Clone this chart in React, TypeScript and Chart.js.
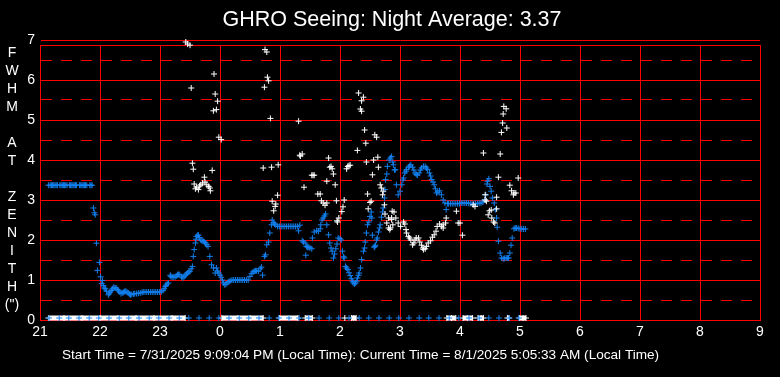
import React, { useEffect, useRef } from 'react';
import { Chart, registerables } from 'chart.js';

Chart.register(...registerables);

const TITLE = 'GHRO Seeing: Night Average: 3.37';
const FOOTER = 'Start Time = 7/31/2025 9:09:04 PM (Local Time): Current Time = 8/1/2025 5:05:33 AM (Local Time)';
const Y_LABEL_LINES = ['F', 'W', 'H', 'M', '', 'A', 'T', '', 'Z', 'E', 'N', 'I', 'T', 'H', '(")'];
const HOUR_LABELS = ['21', '22', '23', '0', '1', '2', '3', '4', '5', '6', '7', '8', '9'];
const Y_TICKS = [0, 0.5, 1, 1.5, 2, 2.5, 3, 3.5, 4, 4.5, 5, 5.5, 6, 6.5, 7];
const Y_MAX = 6.875;
const ZERO_ROW = 0.05;

const BLUE = 'rgb(18,128,240)';
const WHITE = '#ffffff';
const RED = '#ff0000';

// x = hours since 21:00, y = FWHM (arcsec)
const blueSeeing: [number, number][] = [
  [0.14, 3.37], [0.17, 3.37], [0.19, 3.37], [0.21, 3.37], [0.23, 3.37], [0.25, 3.37], [0.27, 3.37], [0.29, 3.37],
  [0.33, 3.37], [0.35, 3.37], [0.37, 3.37], [0.39, 3.37], [0.41, 3.37], [0.43, 3.37], [0.45, 3.37],
  [0.49, 3.37], [0.51, 3.37], [0.53, 3.37], [0.55, 3.37], [0.57, 3.37], [0.59, 3.37], [0.61, 3.37],
  [0.66, 3.37], [0.68, 3.37], [0.7, 3.37], [0.72, 3.37], [0.74, 3.37], [0.76, 3.37], [0.78, 3.37],
  [0.83, 3.37], [0.85, 3.37], [0.87, 3.37],
  [0.89, 2.8], [0.906, 2.68], [0.92, 2.63], [0.94, 1.92], [0.956, 1.24], [0.99, 1.44],
  [1.01, 1.08], [1.03, 0.91], [1.04, 0.99], [1.055, 0.86], [1.07, 0.8], [1.09, 0.78], [1.11, 0.72],
  [1.14, 0.63], [1.155, 0.67], [1.17, 0.7], [1.19, 0.74], [1.21, 0.78], [1.23, 0.82], [1.25, 0.8],
  [1.27, 0.8], [1.29, 0.76], [1.31, 0.73], [1.33, 0.7], [1.35, 0.66], [1.37, 0.68], [1.39, 0.69],
  [1.41, 0.71], [1.43, 0.72], [1.45, 0.7], [1.47, 0.675], [1.49, 0.65], [1.51, 0.63], [1.53, 0.64],
  [1.56, 0.65], [1.58, 0.66], [1.61, 0.66], [1.64, 0.67], [1.67, 0.675], [1.7, 0.69], [1.72, 0.7],
  [1.75, 0.7], [1.78, 0.7], [1.81, 0.7], [1.84, 0.7], [1.87, 0.7], [1.9, 0.7], [1.93, 0.7],
  [1.96, 0.7], [1.99, 0.7], [2.02, 0.7], [2.05, 0.74], [2.07, 0.78], [2.09, 0.84], [2.1, 0.87],
  [2.12, 0.9], [2.14, 0.925], [2.17, 1.12], [2.18, 1.09], [2.2, 1.07], [2.22, 1.08], [2.25, 1.07],
  [2.27, 1.1], [2.29, 1.13], [2.31, 1.14], [2.33, 1.13], [2.36, 1.08], [2.38, 1.05], [2.4, 1.08],
  [2.42, 1.12], [2.44, 1.15], [2.46, 1.175], [2.48, 1.2], [2.5, 1.22], [2.52, 1.28], [2.54, 1.34],
  [2.555, 1.59], [2.57, 1.76], [2.59, 1.925], [2.6, 2.02], [2.61, 2.09], [2.63, 2.12], [2.64, 2.12],
  [2.66, 2.06], [2.68, 2.0], [2.7, 1.98], [2.72, 1.97], [2.74, 1.95], [2.76, 1.925], [2.78, 1.88],
  [2.8, 1.84], [2.83, 1.59], [2.86, 1.38], [2.89, 1.3], [2.92, 1.175], [2.94, 1.3], [2.96, 1.22],
  [2.98, 1.175], [3.0, 1.12], [3.02, 1.07], [3.04, 1.0], [3.06, 0.925], [3.08, 0.88], [3.1, 0.9],
  [3.13, 0.94], [3.15, 0.96], [3.17, 0.98], [3.2, 1.0], [3.23, 1.0], [3.26, 1.0], [3.29, 1.0],
  [3.32, 1.0], [3.35, 1.0], [3.38, 1.0], [3.41, 1.0], [3.44, 1.0], [3.47, 1.0], [3.5, 1.09],
  [3.53, 1.16], [3.55, 1.2], [3.57, 1.22], [3.59, 1.23], [3.61, 1.23], [3.64, 1.22], [3.67, 1.28],
  [3.69, 1.32], [3.71, 1.12], [3.74, 1.59], [3.76, 1.63], [3.78, 1.88], [3.81, 1.95], [3.83, 2.175],
  [3.86, 2.38], [3.87, 2.5], [3.89, 2.43], [3.91, 2.4], [3.93, 2.38], [3.96, 2.34], [3.99, 2.34],
  [4.02, 2.34], [4.05, 2.34], [4.08, 2.34], [4.11, 2.34], [4.14, 2.34], [4.17, 2.34], [4.2, 2.34],
  [4.23, 2.34], [4.26, 2.34], [4.29, 2.34], [4.31, 2.23], [4.33, 2.37], [4.37, 1.98], [4.39, 1.95],
  [4.42, 1.925], [4.43, 1.62], [4.44, 1.84], [4.46, 1.82], [4.48, 1.82], [4.5, 1.8], [4.53, 1.78],
  [4.54, 2.05], [4.57, 2.2], [4.61, 2.23], [4.64, 2.22], [4.67, 2.28], [4.68, 2.38], [4.7, 2.5],
  [4.72, 2.55], [4.74, 2.6], [4.76, 2.65], [4.78, 2.38], [4.81, 2.13], [4.83, 1.925], [4.85, 1.8],
  [4.87, 1.72], [4.89, 1.55], [4.91, 1.65], [4.93, 1.78], [4.95, 1.9], [4.97, 2.05], [5.0, 2.03],
  [5.02, 2.0], [5.04, 1.72], [5.06, 1.58], [5.07, 1.55], [5.09, 1.34], [5.11, 1.3], [5.13, 1.26],
  [5.15, 1.18], [5.17, 1.11], [5.19, 1.03], [5.21, 0.97], [5.22, 0.93], [5.24, 0.9], [5.26, 0.925],
  [5.28, 0.97], [5.29, 1.05], [5.31, 1.12], [5.32, 1.175], [5.34, 1.3], [5.36, 1.51], [5.39, 1.72],
  [5.41, 1.8], [5.42, 1.95], [5.44, 2.175], [5.46, 2.38], [5.48, 2.45], [5.5, 2.59], [5.52, 2.7],
  [5.53, 2.55], [5.54, 2.12], [5.57, 1.82], [5.58, 1.84], [5.59, 1.87], [5.61, 2.0], [5.62, 2.05],
  [5.64, 2.2], [5.66, 2.3], [5.67, 2.38], [5.69, 2.57], [5.71, 2.7], [5.72, 2.8], [5.74, 3.05],
  [5.75, 3.26], [5.76, 3.51], [5.78, 3.65], [5.79, 3.84], [5.82, 4.0], [5.84, 4.05], [5.86, 4.09],
  [5.88, 3.95], [5.89, 3.88], [5.91, 3.75], [5.92, 3.76], [5.94, 3.38], [5.97, 3.13], [6.0, 3.22],
  [6.03, 3.38], [6.05, 3.5], [6.06, 3.55], [6.08, 3.675], [6.1, 3.72], [6.11, 3.76], [6.14, 3.82],
  [6.16, 3.85], [6.18, 3.88], [6.21, 3.82], [6.23, 3.75], [6.25, 3.675], [6.27, 3.64], [6.29, 3.62],
  [6.32, 3.675], [6.34, 3.75], [6.36, 3.8], [6.39, 3.84], [6.42, 3.84], [6.44, 3.8], [6.46, 3.76],
  [6.49, 3.675], [6.51, 3.6], [6.53, 3.51], [6.55, 3.45], [6.57, 3.38], [6.59, 3.28], [6.61, 3.175],
  [6.63, 3.2], [6.66, 3.23], [6.69, 3.13], [6.72, 3.0], [6.75, 2.925], [6.77, 2.76], [6.79, 2.91],
  [6.81, 2.91], [6.84, 2.91], [6.87, 2.91], [6.9, 2.91], [6.93, 2.91], [6.96, 2.91], [6.99, 2.91],
  [7.02, 2.925], [7.05, 2.925], [7.08, 2.925], [7.11, 2.925], [7.14, 2.92], [7.17, 2.91], [7.2, 2.91],
  [7.23, 2.91], [7.26, 2.91], [7.29, 2.91], [7.32, 2.92], [7.35, 2.925], [7.38, 2.95], [7.41, 3.0],
  [7.43, 3.13], [7.45, 3.4], [7.46, 3.47], [7.48, 3.53], [7.5, 3.34], [7.52, 3.22], [7.54, 3.05],
  [7.57, 2.925], [7.59, 2.76], [7.61, 2.55], [7.62, 2.32], [7.64, 1.97], [7.67, 1.675], [7.69, 1.55],
  [7.72, 1.53], [7.74, 1.54], [7.77, 1.55], [7.79, 1.55], [7.81, 1.55], [7.83, 1.675], [7.85, 1.87],
  [7.87, 2.05], [7.9, 2.28], [7.92, 2.3], [7.94, 2.3], [7.97, 2.29], [8.0, 2.28], [8.03, 2.28],
  [8.06, 2.275], [8.09, 2.275],
];

const whiteSeeing: [number, number][] = [
  [2.43, 6.95], [2.46, 6.9], [2.5, 6.87], [2.52, 5.8], [2.54, 3.92], [2.555, 3.77], [2.57, 3.4],
  [2.59, 3.28], [2.61, 3.32], [2.64, 3.26], [2.66, 3.35], [2.68, 3.38], [2.71, 3.425], [2.74, 3.57],
  [2.75, 3.45], [2.78, 3.38], [2.81, 3.34], [2.83, 3.3], [2.84, 3.23], [2.87, 3.74], [2.89, 5.23],
  [2.9, 6.15], [2.92, 5.65], [2.94, 5.26], [2.96, 5.47], [2.98, 4.57], [3.02, 4.51],
  [3.72, 3.8], [3.74, 5.82], [3.75, 6.76], [3.78, 6.7], [3.79, 6.07], [3.81, 5.98], [3.84, 5.04],
  [3.86, 3.82], [3.87, 2.97], [3.895, 2.73], [3.92, 2.84], [3.93, 2.9], [3.96, 3.12], [3.97, 3.88],
  [4.31, 4.97], [4.33, 4.12], [4.34, 4.1], [4.37, 4.15], [4.4, 3.32], [4.53, 3.62], [4.55, 3.62],
  [4.57, 3.62], [4.63, 3.15], [4.67, 3.15], [4.69, 2.98], [4.72, 2.925], [4.75, 2.87], [4.78, 2.925],
  [4.78, 3.47], [4.81, 4.05], [4.83, 3.82], [4.85, 3.84], [4.87, 3.78], [4.89, 3.65], [4.92, 3.38],
  [4.94, 2.98], [4.95, 2.48], [4.96, 2.45], [4.98, 2.55], [5.03, 2.71], [5.05, 2.83], [5.07, 3.0],
  [5.11, 3.78], [5.13, 3.84], [5.15, 3.86], [5.17, 3.87], [5.29, 4.24], [5.31, 5.675], [5.34, 5.275],
  [5.36, 5.48], [5.36, 5.22], [5.39, 5.57], [5.41, 4.75], [5.43, 4.42], [5.44, 3.95], [5.46, 3.15],
  [5.47, 2.78], [5.5, 2.94], [5.52, 2.97], [5.54, 3.63], [5.56, 4.0], [5.58, 4.63], [5.61, 4.57],
  [5.63, 4.07], [5.64, 3.82], [5.67, 3.38], [5.69, 3.3], [5.71, 3.13], [5.72, 3.22], [5.74, 2.88],
  [5.75, 2.65], [5.78, 2.425], [5.81, 2.55], [5.81, 2.3], [5.83, 2.26], [5.84, 2.3], [5.86, 2.55],
  [5.86, 2.51], [5.87, 2.72], [5.88, 2.38], [5.9, 2.7], [5.93, 2.55], [5.97, 2.425], [6.01, 2.34],
  [6.06, 2.45], [6.08, 2.4], [6.1, 2.26], [6.11, 2.175], [6.14, 2.09], [6.16, 2.05], [6.18, 2.0],
  [6.21, 1.88], [6.23, 1.925], [6.25, 2.0], [6.27, 2.05], [6.31, 2.05], [6.33, 1.95], [6.36, 1.87],
  [6.38, 1.8], [6.39, 1.76], [6.42, 1.78], [6.44, 1.84], [6.47, 1.925], [6.51, 1.98], [6.54, 2.07],
  [6.57, 2.13], [6.6, 2.22], [6.62, 2.34], [6.66, 2.4], [6.69, 2.34], [6.72, 2.3], [6.72, 2.38],
  [6.76, 2.425], [6.77, 2.55], [6.94, 2.72], [6.97, 2.425], [7.0, 2.425], [7.04, 2.12], [7.22, 2.88],
  [7.25, 2.84], [7.39, 4.175], [7.42, 3.13], [7.42, 3.0], [7.44, 2.97], [7.47, 2.63], [7.49, 2.73],
  [7.52, 2.75], [7.53, 2.55], [7.56, 2.45], [7.58, 2.425], [7.61, 3.07], [7.61, 2.78], [7.64, 3.57],
  [7.67, 4.15], [7.69, 4.69], [7.71, 4.925], [7.72, 5.15], [7.73, 5.34], [7.77, 5.28], [7.78, 4.8],
  [7.83, 3.37], [7.86, 3.23], [7.89, 3.13], [7.9, 3.175], [7.93, 3.175], [7.97, 3.55],
];

// readings logged as zero (white runs along the time axis)
const whiteZeroRuns: number[][] = [
  [0.14, 0.4, 0.7, 1.0, 1.3, 1.6, 1.9, 2.2, 2.42],
  [3.03, 3.3, 3.5, 3.72],
  [3.99, 4.15, 4.3],
  [4.42, 4.48, 4.54],
  [5.08],
  [5.19, 5.23, 5.27],
  [6.78, 6.86, 6.93],
  [7.05, 7.13, 7.21],
  [7.3, 7.35, 7.39],
  [7.79, 7.82],
  [7.99, 8.05, 8.1],
];

// blue zero-row markers (every ten minutes)
const blueZeroHours: number[] = [
  0.15, 0.32, 0.48, 0.65, 0.82, 0.98, 1.15, 1.32, 1.48, 1.65, 1.82, 1.98, 2.15, 2.32, 2.48, 2.65,
  2.82, 2.98, 3.15, 3.32, 3.48, 3.65, 3.82, 3.98, 4.15, 4.32, 4.48, 4.65, 4.82, 4.98, 5.15, 5.32,
  5.48, 5.65, 5.82, 5.98, 6.15, 6.32, 6.48, 6.65, 6.82, 6.98, 7.15, 7.32, 7.48, 7.65, 7.82, 7.98,
];

const FONT = '"Liberation Sans", Arial, sans-serif';

export default function App() {
  const ref = useRef<HTMLCanvasElement>(null);

  useEffect(() => {
    document.body.style.margin = '0';
    document.body.style.background = '#000';
    const canvas = ref.current;
    if (!canvas) return;

    const whiteZeroData: { x: number; y: number | null }[] = [];
    whiteZeroRuns.forEach((run, i) => {
      if (i > 0) whiteZeroData.push({ x: run[0] - 0.01, y: null });
      run.forEach((h) => whiteZeroData.push({ x: h, y: ZERO_ROW }));
    });

    const decor = {
      id: 'decor',
      beforeDatasetsDraw(chart: any) {
        const { ctx, chartArea } = chart;
        ctx.save();
        ctx.strokeStyle = RED;
        ctx.lineWidth = 1;
        ctx.beginPath();
        ctx.moveTo(chartArea.left, Math.round(chartArea.top) + 0.5);
        ctx.lineTo(chartArea.right + 0.5, Math.round(chartArea.top) + 0.5);
        ctx.stroke();
        ctx.restore();
      },
      afterDraw(chart: any) {
        const { ctx } = chart;
        ctx.save();
        ctx.fillStyle = WHITE;
        ctx.textAlign = 'center';
        ctx.textBaseline = 'middle';
        ctx.font = '21.5px ' + FONT;
        ctx.fillText(TITLE, 392, 20);
        ctx.font = '14px ' + FONT;
        Y_LABEL_LINES.forEach((s, i) => ctx.fillText(s, 12, 53 + i * 18));
        ctx.font = '13.6px ' + FONT;
        ctx.textAlign = 'left';
        ctx.fillText(FOOTER, 62, 355);
        ctx.restore();
      },
    };

    const crossStyle = {
      pointStyle: 'cross' as const,
      pointRadius: 3,
      pointHoverRadius: 3,
      borderWidth: 1,
      clip: false as const,
    };

    const chart = new Chart(canvas, {
      type: 'scatter',
      data: {
        datasets: [
          {
            label: 'zero markers',
            data: blueZeroHours.map((h) => ({ x: h, y: ZERO_ROW })),
            borderColor: BLUE,
            backgroundColor: BLUE,
            ...crossStyle,
          },
          {
            label: 'zero readings',
            data: whiteZeroData as any,
            borderColor: WHITE,
            backgroundColor: WHITE,
            pointBorderColor: WHITE,
            showLine: true,
            spanGaps: false,
            ...crossStyle,
            borderWidth: 5,
            pointBorderWidth: 1,
          },
          {
            label: 'white',
            data: whiteSeeing.map(([x, y]) => ({ x, y })),
            borderColor: WHITE,
            backgroundColor: WHITE,
            ...crossStyle,
          },
          {
            label: 'blue',
            data: blueSeeing.map(([x, y]) => ({ x, y })),
            borderColor: BLUE,
            backgroundColor: BLUE,
            ...crossStyle,
          },
        ],
      },
      options: {
        responsive: false,
        animation: false,
        events: [],
        layout: { padding: { left: 0, right: 20, top: 45, bottom: 0 } },
        plugins: {
          legend: { display: false },
          tooltip: { enabled: false },
          title: { display: false },
        },
        scales: {
          x: {
            type: 'linear',
            min: 0,
            max: 12,
            afterFit: (scale: any) => {
              scale.height = 57;
            },
            ticks: {
              stepSize: 1,
              color: WHITE,
              font: { family: FONT, size: 14 },
              padding: 4,
              maxRotation: 0,
              autoSkip: false,
              callback: (v: any) => HOUR_LABELS[Math.round(Number(v))] ?? '',
            },
            grid: { color: RED, lineWidth: 1, drawTicks: false },
            border: { color: RED, width: 1 },
          },
          y: {
            type: 'linear',
            min: 0,
            max: Y_MAX,
            afterFit: (scale: any) => {
              scale.width = 40;
            },
            afterBuildTicks: (scale: any) => {
              scale.ticks = Y_TICKS.map((v) => ({ value: v }));
            },
            ticks: {
              color: WHITE,
              font: { family: FONT, size: 14 },
              padding: 5,
              autoSkip: false,
              callback: (v: any) => (Number.isInteger(Number(v)) ? String(v) : ''),
            },
            grid: { color: RED, lineWidth: 1, drawTicks: false },
            border: {
              color: RED,
              width: 1,
              dash: (ctx: any) => (ctx.tick && !Number.isInteger(ctx.tick.value) ? [11, 9] : []),
            },
          },
        },
      },
      plugins: [decor],
    });

    return () => chart.destroy();
  }, []);

  return (
    <div style={{ width: 780, height: 377, background: '#000' }}>
      <canvas ref={ref} width={780} height={377} style={{ display: 'block' }} />
    </div>
  );
}
